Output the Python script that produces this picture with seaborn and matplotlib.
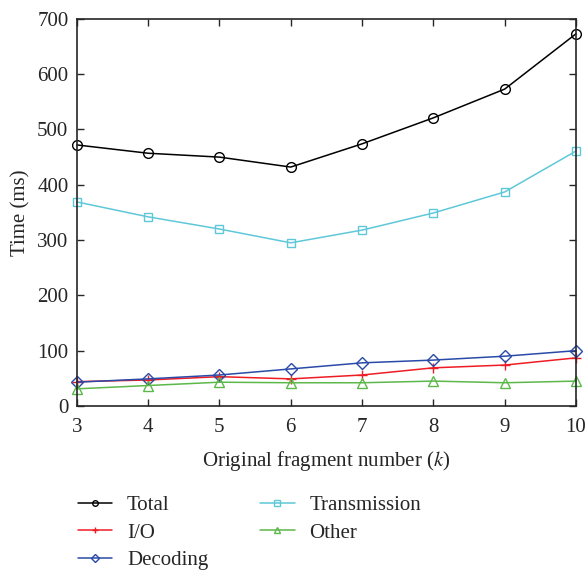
import pandas as pd
import matplotlib
matplotlib.use("Agg")
import matplotlib.pyplot as plt
from matplotlib.lines import Line2D
import seaborn as sns

# values
k = [3, 4, 5, 6, 7, 8, 9, 10]
total = [472, 457, 450, 432, 474, 521, 573, 673]
io = [44, 47, 53, 49, 56, 69, 74, 87]
decoding = [43, 49, 56, 67, 78, 83, 90, 100]
transmission = [369, 342, 320, 295, 318, 349, 387, 461]
other = [31, 37, 43, 42, 42, 45, 42, 45]

series = [
    ("Total", total, "black", "o", 7),
    ("I/O", io, "#ee1c24", "+", 7),
    ("Decoding", decoding, "#2a4aa8", "D", 6),
    ("Transmission", transmission, "#5ec8d8", "s", 6),
    ("Other", other, "#5cb84a", "^", 7),
]


def main():
    sns.set_style("ticks")
    plt.rcParams["font.family"] = ["Liberation Serif", "DejaVu Serif"]
    plt.rcParams["mathtext.fontset"] = "stix"
    plt.rcParams["xtick.direction"] = "in"
    plt.rcParams["ytick.direction"] = "in"

    fig = plt.figure(figsize=(5.86, 5.71), dpi=100)
    ax = fig.add_axes([0.131, 0.289, 0.852, 0.678])

    handles = []
    for name, vals, color, marker, ms in series:
        df = pd.DataFrame({"k": k, "time": vals})
        sns.lineplot(data=df, x="k", y="time", ax=ax, color=color, marker=marker,
                     markersize=ms, markerfacecolor="none", markeredgecolor=color,
                     markeredgewidth=1.0, linewidth=1.1, clip_on=False)
        handles.append(Line2D([], [], color=color, marker=marker, markersize=4,
                              markerfacecolor="none", markeredgecolor=color,
                              linewidth=1.1, label=name))
    ax.set_xlim(3, 10)
    ax.set_ylim(0, 700)
    ax.set_xticks(k)
    ax.set_yticks(range(0, 701, 100))
    ax.tick_params(axis="both", labelsize=15, length=5, width=1,
                   top=True, right=True, pad=6)
    ax.tick_params(axis="x", pad=9)
    for s in ax.spines.values():
        s.set_linewidth(1.2)
        s.set_visible(True)
    ax.set_xlabel("Original fragment number ($k$)", fontsize=15, labelpad=8)
    ax.set_ylabel("Time (ms)", fontsize=15, labelpad=5)

    fig.legend(handles=handles, ncol=2, frameon=False, fontsize=15,
               loc="upper left", bbox_to_anchor=(0.133, 0.132),
               borderpad=0, borderaxespad=0,
               handlelength=1.65, columnspacing=2.5, labelspacing=0.38,
               handletextpad=0.7)
    fig.savefig("out.png", dpi=100)


if __name__ == "__main__":
    main()
